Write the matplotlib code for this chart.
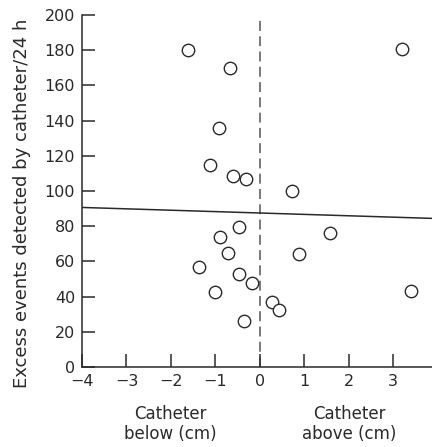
import matplotlib
matplotlib.use("Agg")
import matplotlib.pyplot as plt
import numpy as np

plt.rcParams['font.family'] = ['DejaVu Sans']

# Data
position_cm = [-1.62, -0.67, -0.92, -1.12, -0.61, -0.31, 0.72, 3.19,
               -0.47, -0.90, 1.57, -0.72, 0.88, -1.37, -0.47, -0.18,
               -1.00, 3.39, 0.27, 0.43, -0.36]
excess_events = [180, 170, 136, 115, 108.5, 107, 100, 180.5,
                 79.5, 74, 76, 65, 64, 57, 53, 48,
                 42.5, 43, 37, 32.5, 26]
fit_intercept = 87.5
fit_slope = -0.79
fit_x = [-4.0, 3.9]
xticks = [-4, -3, -2, -1, 0, 1, 2, 3]
xticklabels = ['\u22124', '\u22123', '\u22122', '\u22121', '0', '1', '2', '3']
yticks = [0, 20, 40, 60, 80, 100, 120, 140, 160, 180, 200]

W, H = 432, 447
fig = plt.figure(figsize=(W / 100, H / 100), dpi=100)
ax = fig.add_axes([82 / W, 80 / H, 350 / W, 352 / H])

ink = '#2a2a2a'
fx = np.array(fit_x)
ax.plot(fx, fit_intercept + fit_slope * fx, color=ink, lw=1.1, zorder=2)
ax.plot([0, 0], [0, 199], color='#555555', lw=1.1, dashes=(6.5, 3.5), zorder=1)
ax.scatter(position_cm, excess_events, s=80, facecolors='white',
           edgecolors=ink, linewidths=1.0, zorder=3)

ax.set_xlim(-4, 3.87)
ax.set_ylim(0, 200)
for s in ['top', 'right']:
    ax.spines[s].set_visible(False)
for s in ['left', 'bottom']:
    ax.spines[s].set_color(ink)
    ax.spines[s].set_linewidth(1.1)

ax.set_xticks(xticks)
ax.set_xticklabels(xticklabels)
ax.set_yticks(yticks)
ax.tick_params(axis='both', direction='in', length=9.5, width=1.1,
               color=ink, labelsize=11.5, labelcolor=ink)
ax.tick_params(axis='y', pad=5)
ax.tick_params(axis='x', pad=5)

fig.text(22 / W, 1 - 203 / H, 'Excess events detected by catheter/24 h',
         rotation=90, ha='center', va='center', fontsize=13, color=ink)
fig.text(170 / W, 1 - 424 / H, 'Catheter\nbelow (cm)', ha='center',
         va='center', fontsize=12, color=ink, linespacing=1.2)
fig.text(349 / W, 1 - 424 / H, 'Catheter\nabove (cm)', ha='center',
         va='center', fontsize=12, color=ink, linespacing=1.2)

fig.savefig('out.png', dpi=100)
